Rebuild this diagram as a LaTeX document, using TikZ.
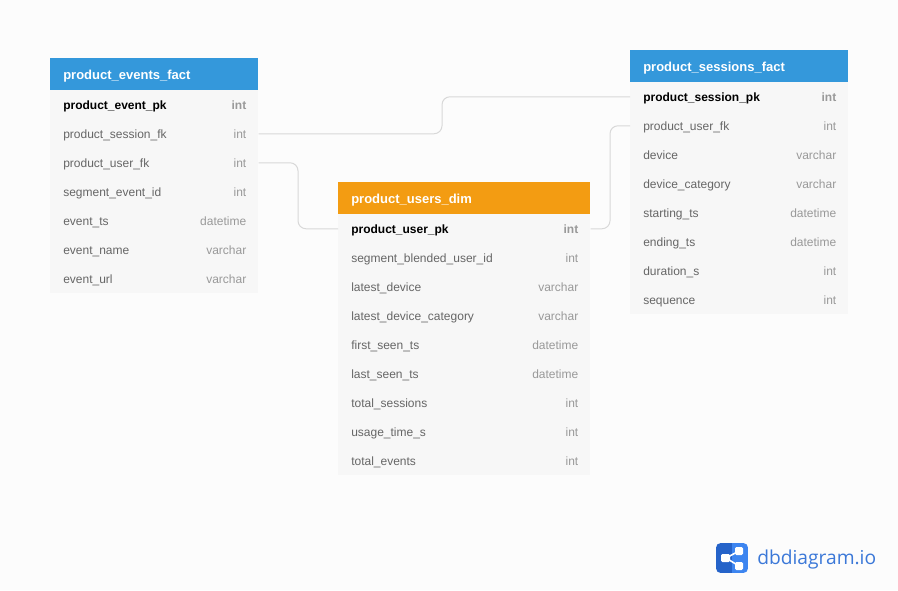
\documentclass[tikz,border=0pt]{standalone}
\usepackage{fontspec}
\setmainfont{Liberation Sans}
\newfontfamily\logofont{Open Sans}
\usetikzlibrary{calc}

\definecolor{pagebg}{HTML}{FCFCFC}
\definecolor{rowbg}{HTML}{F7F7F7}
\definecolor{factblue}{HTML}{3498DB}
\definecolor{dimorange}{HTML}{F39C12}
\definecolor{relgray}{HTML}{D8D8D8}
\definecolor{colgray}{HTML}{666666}
\definecolor{typegray}{HTML}{999999}
\definecolor{logoblue}{HTML}{3B78D8}
\definecolor{logodark}{HTML}{2563C9}
\definecolor{logolight}{HTML}{3D85F0}

\tikzset{
    tablehead/.style={fill=#1, inner sep=0pt, minimum height=24pt, text=white, text height=9.5pt, text depth=1.5pt, font=\bfseries\fontsize{9.75}{11}\selectfont, anchor=north west, align=left},
    tablerow/.style={fill=rowbg, inner sep=0pt, minimum height=21.75pt, anchor=north west},
    colname/.style={text=colgray, inner sep=0pt, text height=9pt, text depth=1.5pt, anchor=west, font=\fontsize{9}{11}\selectfont},
    coltype/.style={text=typegray, inner sep=0pt, text height=9pt, text depth=1.5pt, anchor=east, font=\fontsize{9}{11}\selectfont},
    relation/.style={draw=relgray, line width=0.75pt, rounded corners=6pt},
}

\begin{document}
\begin{tikzpicture}[x=0.75pt, y=-0.75pt]
        \useasboundingbox (0,0) rectangle (898,590);
        \fill[pagebg] (0,0) rectangle (898,590);

        % product_events_fact
        \node[tablehead=factblue, minimum width=156pt] (evhead) at (50,58) {};
        \node[tablehead=factblue, anchor=west] (evtitle) at ([xshift=9.75pt]evhead.west) {product\_events\_fact};
        \node[tablerow, minimum width=156pt] (ev-1) at (50,90) {};
        \node[colname, font=\bfseries\fontsize{9}{11}\selectfont, text=black] (evn-1) at ([xshift=9.75pt]ev-1.west) {product\_event\_pk};
        \node[coltype, font=\bfseries\fontsize{9}{11}\selectfont] (evt-1) at ([xshift=-9pt]ev-1.east) {int};
        \foreach \i/\col/\typ in {2/product\_session\_fk/int, 3/product\_user\_fk/int, 4/segment\_event\_id/int, 5/event\_ts/datetime, 6/event\_name/varchar, 7/event\_url/varchar}{
            \node[tablerow, minimum width=156pt] (ev-\i) at (50,{90+29*(\i-1)}) {};
            \node[colname] (evn-\i) at ([xshift=9.75pt]ev-\i.west) {\col};
            \node[coltype] (evt-\i) at ([xshift=-9pt]ev-\i.east) {\typ};
        }

        % product_users_dim
        \node[tablehead=dimorange, minimum width=189pt] (ushead) at (338,182) {};
        \node[tablehead=dimorange, anchor=west] (ustitle) at ([xshift=9.75pt]ushead.west) {product\_users\_dim};
        \node[tablerow, minimum width=189pt] (us-1) at (338,214) {};
        \node[colname, font=\bfseries\fontsize{9}{11}\selectfont, text=black] (usn-1) at ([xshift=9.75pt]us-1.west) {product\_user\_pk};
        \node[coltype, font=\bfseries\fontsize{9}{11}\selectfont] (ust-1) at ([xshift=-9pt]us-1.east) {int};
        \foreach \i/\col/\typ in {2/segment\_blended\_user\_id/int, 3/latest\_device/varchar, 4/latest\_device\_category/varchar, 5/first\_seen\_ts/datetime, 6/last\_seen\_ts/datetime, 7/total\_sessions/int, 8/usage\_time\_s/int, 9/total\_events/int}{
            \node[tablerow, minimum width=189pt] (us-\i) at (338,{214+29*(\i-1)}) {};
            \node[colname] (usn-\i) at ([xshift=9.75pt]us-\i.west) {\col};
            \node[coltype] (ust-\i) at ([xshift=-9pt]us-\i.east) {\typ};
        }

        % product_sessions_fact
        \node[tablehead=factblue, minimum width=163.5pt] (sehead) at (630,50) {};
        \node[tablehead=factblue, anchor=west] (setitle) at ([xshift=9.75pt]sehead.west) {product\_sessions\_fact};
        \node[tablerow, minimum width=163.5pt] (se-1) at (630,82) {};
        \node[colname, font=\bfseries\fontsize{9}{11}\selectfont, text=black] (sen-1) at ([xshift=9.75pt]se-1.west) {product\_session\_pk};
        \node[coltype, font=\bfseries\fontsize{9}{11}\selectfont] (set-1) at ([xshift=-9pt]se-1.east) {int};
        \foreach \i/\col/\typ in {2/product\_user\_fk/int, 3/device/varchar, 4/device\_category/varchar, 5/starting\_ts/datetime, 6/ending\_ts/datetime, 7/duration\_s/int, 8/sequence/int}{
            \node[tablerow, minimum width=163.5pt] (se-\i) at (630,{82+29*(\i-1)}) {};
            \node[colname] (sen-\i) at ([xshift=9.75pt]se-\i.west) {\col};
            \node[coltype] (set-\i) at ([xshift=-9pt]se-\i.east) {\typ};
        }

        % Relations
        \coordinate (bendA) at (442,115);
        \coordinate (bendB) at (298,195);
        \coordinate (bendC) at (610,178);
        \draw[relation] (ev-2.east) -| (bendA) |- (se-1.west);
        \draw[relation] (ev-3.east) -| (bendB) |- (us-1.west);
        \draw[relation] (us-1.east) -| (bendC) |- (se-2.west);

        % Logo
        \begin{scope}
            \clip[rounded corners=3.5pt] (716,543) rectangle (748,573);
            \fill[logodark] (716,543) rectangle (732,573);
            \fill[logolight] (732,543) rectangle (748,573);
        \end{scope}
        \coordinate (hub) at (726,558);
        \coordinate (leafA) at (739,551);
        \coordinate (leafB) at (739,566);
        \draw[white, line width=1.2pt] (leafA) -- (hub) -- (leafB);
        \fill[white, rounded corners=1pt] (721,554) rectangle (730,562);
        \fill[white, rounded corners=1pt] (735,547) rectangle (743,555);
        \fill[white, rounded corners=1pt] (735,562) rectangle (743,570);
        \node[inner sep=0pt, anchor=west, text=logoblue, font=\logofont\fontsize{14.4}{18}\selectfont] (logotext) at (757,559) {dbdiagram.io};
\end{tikzpicture}
\end{document}
